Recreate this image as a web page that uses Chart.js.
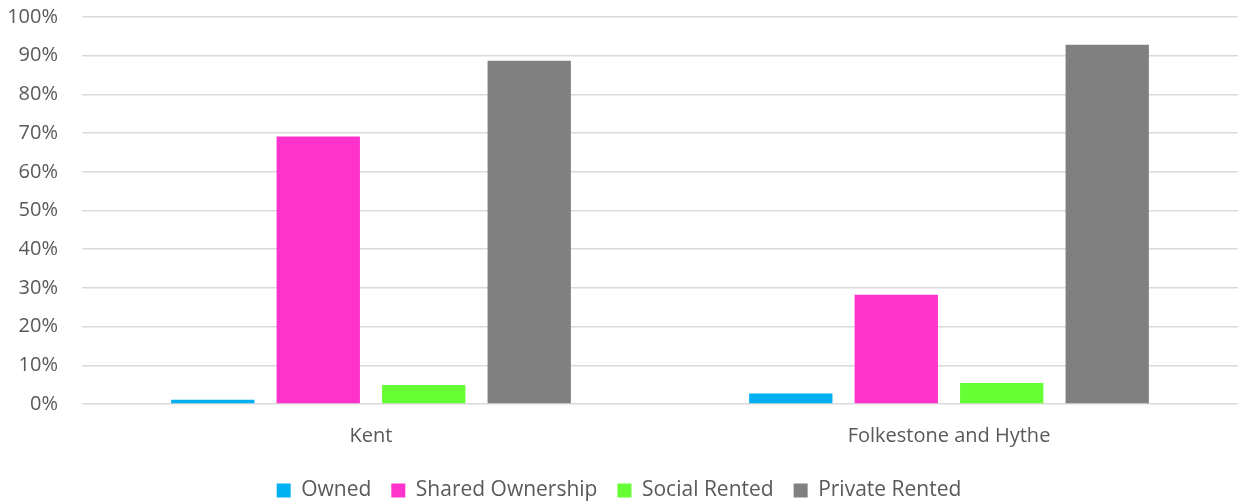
<!DOCTYPE html>
<html>
<head>
<meta charset="utf-8">
<script src="https://cdn.jsdelivr.net/npm/chart.js@4/dist/chart.umd.min.js"></script>
<style>
  html, body { margin: 0; padding: 0; background: #fff; overflow: hidden; }
  canvas { display: block; }
</style>
</head>
<body>
<canvas id="barChart" width="1242" height="503"></canvas>
<script>
// ---data---
var areas = ["Kent", "Folkestone and Hythe"];
var owned = [1.1, 2.7];
var sharedOwnership = [69.1, 28.2];
var socialRented = [4.9, 5.4];
var privateRented = [88.7, 92.8];
var yTicks = [0, 10, 20, 30, 40, 50, 60, 70, 80, 90, 100];

var textColor = "#595959";
var fontFamily = "'Open Sans', 'Liberation Sans', sans-serif";

function series(label, data, colour) {
  return {
    label: label,
    data: data,
    backgroundColor: colour,
    borderWidth: 0,
    categoryPercentage: 0.73,
    barPercentage: 0.79,
  };
}

// ---chart script---
var ctx = document.getElementById("barChart").getContext("2d");
var myBarChart = new Chart(ctx, {
  type: "bar",
  data: {
    labels: areas,
    datasets: [
      series("Owned", owned, "#00b0f0"),
      series("Shared Ownership", sharedOwnership, "#ff33cc"),
      series("Social Rented", socialRented, "#66ff33"),
      series("Private Rented", privateRented, "#808080"),
    ],
  },
  options: {
    responsive: false,
    animation: false,
    devicePixelRatio: 1,
    layout: { padding: { top: 17, right: 4, bottom: -8, left: 0 } },
    plugins: {
      tooltip: { enabled: false },
      legend: {
        position: "bottom",
        labels: {
          color: textColor,
          font: { family: fontFamily, size: 21 },
          boxWidth: 14,
          boxHeight: 14,
          padding: 20,
        },
      },
    },
    scales: {
      x: {
        grid: { display: false },
        border: { display: false },
        ticks: {
          color: textColor,
          font: { family: fontFamily, size: 20 },
          padding: 12,
        },
      },
      y: {
        min: 0,
        max: 100,
        afterFit: function (scale) {
          scale.width = 82;
          scale.paddingTop = 0;
          scale.paddingBottom = 0;
        },
        afterBuildTicks: function (scale) {
          scale.ticks = yTicks.map(function (v) {
            return { value: v };
          });
        },
        grid: { color: "#d9d9d9", lineWidth: 1.5, drawTicks: false },
        border: { display: false },
        ticks: {
          color: textColor,
          font: { family: fontFamily, size: 20 },
          padding: 24,
          callback: function (v) {
            return v + "%";
          },
        },
      },
    },
  },
});
</script>
</body>
</html>
